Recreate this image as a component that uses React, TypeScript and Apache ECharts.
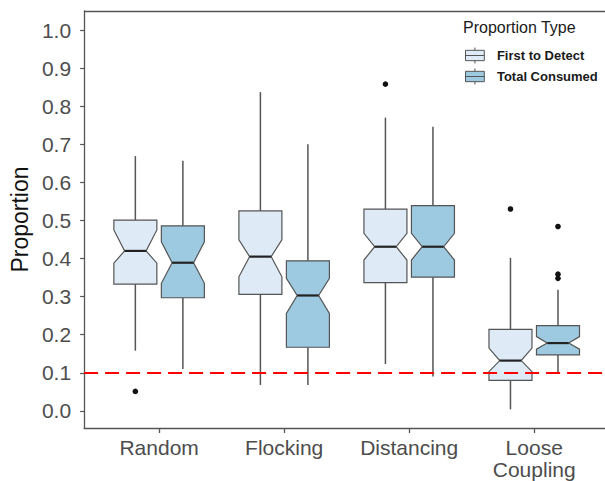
import React, { useEffect, useRef } from "react";
import * as echarts from "echarts";

const categories = ["Random", "Flocking", "Distancing", "Loose\nCoupling"];
const yTicks = [0, 0.1, 0.2, 0.3, 0.4, 0.5, 0.6, 0.7, 0.8, 0.9, 1.0];
const referenceLine = 0.1;

// First to Detect
const firstWhiskerLow = [0.158, 0.068, 0.123, 0.004];
const firstQ1 = [0.333, 0.306, 0.337, 0.08];
const firstNotchLow = [0.388, 0.352, 0.396, 0.103];
const firstMedian = [0.42, 0.405, 0.431, 0.132];
const firstNotchHigh = [0.475, 0.449, 0.466, 0.165];
const firstQ3 = [0.501, 0.525, 0.53, 0.214];
const firstWhiskerHigh = [0.669, 0.837, 0.77, 0.402];
const firstOutliers = [[0.051], [], [0.858], [0.53]];

// Total Consumed
const totalWhiskerLow = [0.11, 0.068, 0.09, 0.102];
const totalQ1 = [0.297, 0.167, 0.351, 0.147];
const totalNotchLow = [0.335, 0.256, 0.396, 0.162];
const totalMedian = [0.389, 0.303, 0.431, 0.178];
const totalNotchHigh = [0.444, 0.348, 0.466, 0.195];
const totalQ3 = [0.486, 0.394, 0.539, 0.224];
const totalWhiskerHigh = [0.657, 0.7, 0.746, 0.318];
const totalOutliers = [[], [], [], [0.484, 0.359, 0.348]];

const FONT = 'Arial, "Liberation Sans", sans-serif';
const BORDER = "#555555";
const X_MIN = 0.4;
const X_MAX = 4.622;
const Y_MIN = -0.045;
const Y_MAX = 1.05;

function buildRows(wl: number[], q1: number[], nl: number[], md: number[], nh: number[], q3: number[], wh: number[]) {
  return categories.map((_, i) => [i + 1, wl[i], q1[i], nl[i], md[i], nh[i], q3[i], wh[i]]);
}

function makeRenderItem(offset: number, outliers: number[][], fill: string) {
  const boxHalf = 0.172;
  return (params: any, api: any) => {
    const xc = api.value(0) + offset;
    const wl = api.value(1), q1 = api.value(2), nl = api.value(3), md = api.value(4);
    const nh = api.value(5), q3 = api.value(6), wh = api.value(7);
    const px = api.coord([xc, 0])[0];
    const hw = api.size([boxHalf, 0])[0];
    const inset = hw * 0.5;
    const y = (v: number) => api.coord([xc, v])[1];
    const xl = px - hw, xr = px + hw;
    const children: any[] = [
      { type: "line", shape: { x1: px, y1: y(q3), x2: px, y2: y(wh) }, style: { stroke: BORDER, lineWidth: 1.5 } },
      { type: "line", shape: { x1: px, y1: y(q1), x2: px, y2: y(wl) }, style: { stroke: BORDER, lineWidth: 1.5 } },
      {
        type: "polygon",
        shape: {
          points: [
            [xl, y(q3)], [xr, y(q3)], [xr, y(nh)], [xr - inset, y(md)], [xr, y(nl)], [xr, y(q1)],
            [xl, y(q1)], [xl, y(nl)], [xl + inset, y(md)], [xl, y(nh)],
          ],
        },
        style: { fill, stroke: BORDER, lineWidth: 1.2 },
      },
      { type: "line", shape: { x1: xl + inset, y1: y(md), x2: xr - inset, y2: y(md) }, style: { stroke: "#222222", lineWidth: 2.2 } },
    ];
    (outliers[params.dataIndex] || []).forEach((v) => {
      children.push({ type: "circle", shape: { cx: px, cy: y(v), r: 2.8 }, style: { fill: "#111111" } });
    });
    return { type: "group", children };
  };
}

export default function App() {
  const ref = useRef<HTMLDivElement>(null);
  useEffect(() => {
    if (!ref.current) return;
    const chart = echarts.init(ref.current, undefined, { renderer: "svg" });
    const firstFill = "#deebf7";
    const totalFill = "#9ecae1";
    const legendIcon = "path://M10,0 L10,3 M0,3 L20,3 L20,14 L0,14 Z M0,8.5 L20,8.5 M10,14 L10,17";
    const axisLineStyle = { color: BORDER, width: 1.3 };
    chart.setOption({
      animation: false,
      backgroundColor: "#ffffff",
      title: {
        text: "Proportion Type",
        left: 458,
        top: 14,
        textStyle: { fontFamily: FONT, fontSize: 16, fontWeight: "normal", color: "#1a1a1a" },
      },
      legend: {
        orient: "vertical",
        left: 460,
        top: 42,
        itemWidth: 20,
        itemHeight: 16,
        itemGap: 4,
        icon: legendIcon,
        itemStyle: { borderColor: BORDER, borderWidth: 1 },
        textStyle: { fontFamily: FONT, fontSize: 13, fontWeight: "bold", color: "#1a1a1a", padding: [0, 0, 0, 7] },
        data: ["First to Detect", "Total Consumed"],
      },
      grid: {
        left: 80,
        top: 11,
        right: 0,
        height: 417,
        show: false,
        containLabel: false,
      },
      xAxis: {
        type: "value",
        position: "bottom",
        min: X_MIN,
        max: X_MAX,
        splitLine: { show: false },
        axisLine: { show: true, onZero: false, lineStyle: axisLineStyle },
        axisTick: { show: true, length: 5, lineStyle: { color: BORDER, width: 1.3 }, customValues: [1, 2, 3, 4] },
        axisLabel: {
          customValues: [1, 2, 3, 4],
          formatter: (v: number) => categories[Math.round(v) - 1] || "",
          fontFamily: FONT,
          fontSize: 21,
          color: "#4d4d4d",
          margin: 8,
          lineHeight: 22,
        },
      },
      yAxis: {
        type: "value",
        min: Y_MIN,
        max: Y_MAX,
        name: "Proportion",
        nameLocation: "middle",
        nameGap: 36,
        nameRotate: 90,
        nameTextStyle: { fontFamily: FONT, fontSize: 23, color: "#111111" },
        splitLine: { show: false },
        axisLine: { show: true, onZero: false, lineStyle: axisLineStyle },
        axisTick: { show: true, length: 4, lineStyle: { color: BORDER, width: 1.2 }, customValues: yTicks },
        axisLabel: {
          customValues: yTicks,
          formatter: (v: number) => v.toFixed(1),
          fontFamily: FONT,
          fontSize: 21,
          color: "#4d4d4d",
          margin: 13,
        },
      },
      series: [
        {
          name: "First to Detect",
          type: "custom",
          z: 2,
          itemStyle: { color: firstFill, borderColor: BORDER },
          encode: { x: 0, y: [1, 2, 3, 4, 5, 6, 7] },
          renderItem: makeRenderItem(-0.19, firstOutliers, firstFill),
          data: buildRows(firstWhiskerLow, firstQ1, firstNotchLow, firstMedian, firstNotchHigh, firstQ3, firstWhiskerHigh),
        },
        {
          name: "Total Consumed",
          type: "custom",
          z: 2,
          itemStyle: { color: totalFill, borderColor: BORDER },
          encode: { x: 0, y: [1, 2, 3, 4, 5, 6, 7] },
          renderItem: makeRenderItem(0.19, totalOutliers, totalFill),
          data: buildRows(totalWhiskerLow, totalQ1, totalNotchLow, totalMedian, totalNotchHigh, totalQ3, totalWhiskerHigh),
        },
        {
          name: "ref",
          type: "line",
          data: [],
          z: 5,
          markLine: {
            silent: true,
            symbol: "none",
            label: { show: false },
            lineStyle: { color: "#ff0000", type: [14, 7], width: 2 },
            data: [
              { yAxis: referenceLine },
              { yAxis: Y_MAX, lineStyle: { color: BORDER, type: "solid", width: 1.3 } },
            ],
          },
        },
      ],
    });
    return () => chart.dispose();
  }, []);
  return <div ref={ref} style={{ position: "fixed", left: 0, top: 0, width: 612, height: 481 }} />;
}
